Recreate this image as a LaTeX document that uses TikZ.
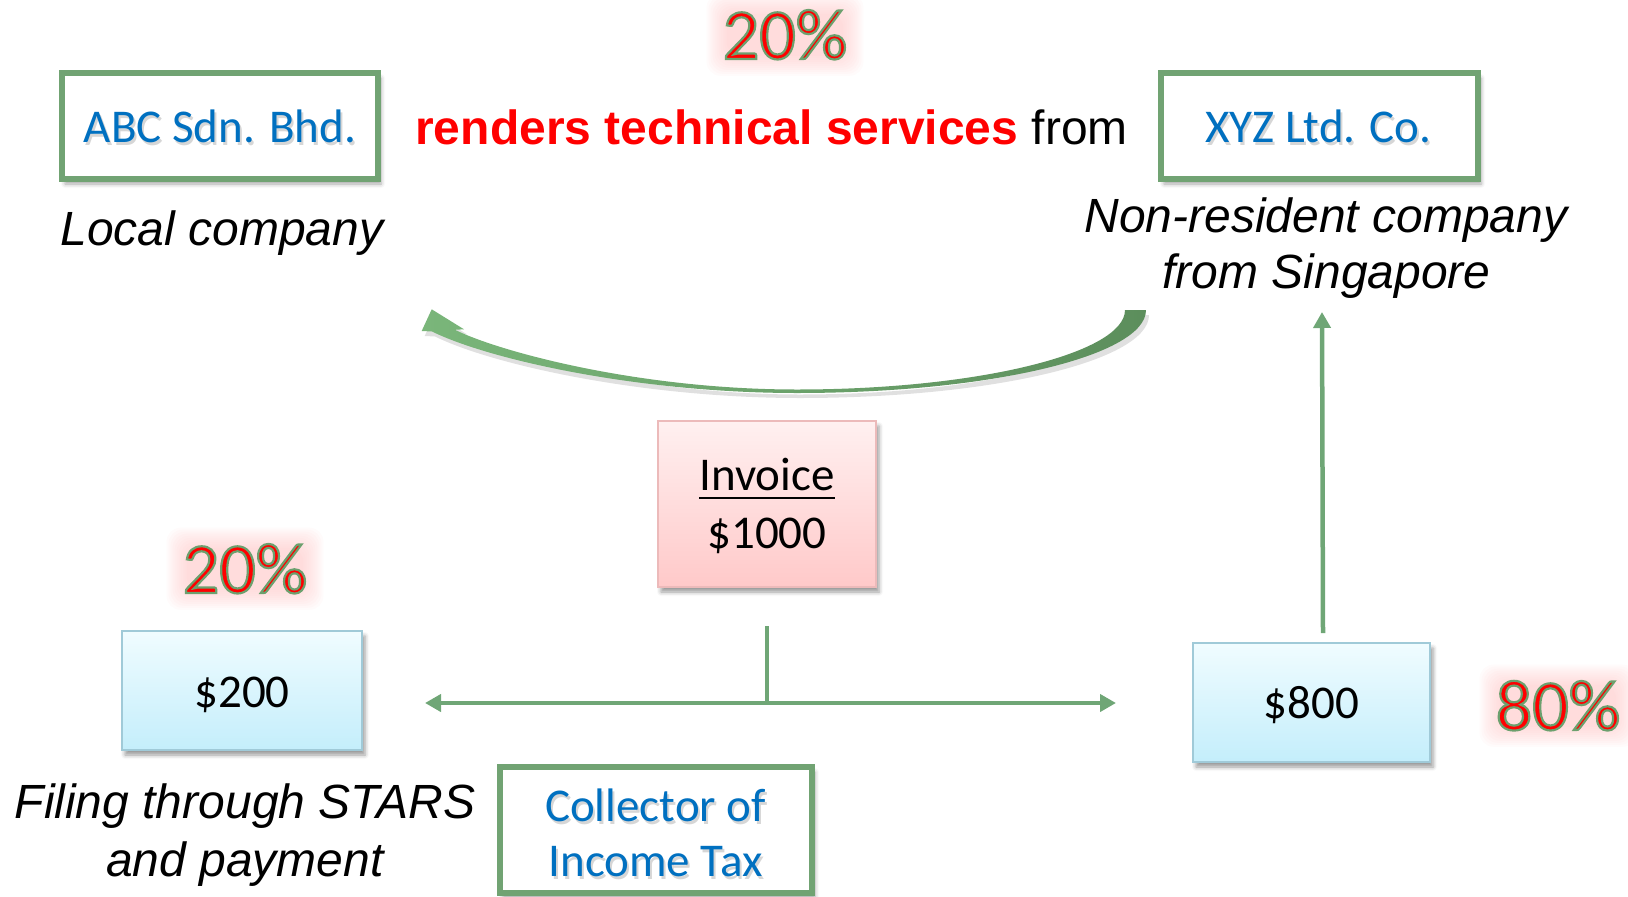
\documentclass[tikz,border=0pt]{standalone}
\usepackage{fontspec}
\setmainfont{Carlito}
\newfontfamily\arialfam{Liberation Sans}
\usetikzlibrary{shadows.blur,arrows.meta,calc,backgrounds}

\definecolor{boxgreen}{RGB}{113,163,115}
\definecolor{linegreen}{RGB}{111,166,118}
\definecolor{txtblue}{RGB}{0,112,192}
\definecolor{pctred}{RGB}{255,0,0}
\definecolor{glowpink}{RGB}{255,190,190}
\definecolor{bluetop}{RGB}{240,252,255}
\definecolor{bluebot}{RGB}{196,238,251}
\definecolor{blueedge}{RGB}{160,202,216}
\definecolor{pinktop}{RGB}{255,240,240}
\definecolor{pinkbot}{RGB}{255,201,201}
\definecolor{pinkedge}{RGB}{236,186,186}
\definecolor{arrowlight}{RGB}{122,182,122}
\definecolor{arrowdark}{RGB}{92,142,92}

\tikzset{
  >={Triangle[length=16bp,width=17bp]},
  calfont/.style={font=\fontsize{47bp}{56bp}\selectfont},
  pctfont/.style={font=\fontsize{72bp}{80bp}\selectfont, anchor=base, inner sep=0pt},
  arialit/.style={font=\arialfam\itshape\fontsize{48bp}{56bp}\selectfont, anchor=base, inner sep=0pt},
  basetext/.style={calfont, anchor=base, inner sep=0pt},
  greenbox/.style={draw=boxgreen, line width=6bp, fill=white, inner sep=0pt,
    blur shadow={shadow xshift=3bp, shadow yshift=-5bp, shadow blur radius=4bp, shadow opacity=35}},
  bluebox/.style={draw=blueedge, line width=2bp, top color=bluetop, bottom color=bluebot, inner sep=0pt,
    blur shadow={shadow xshift=3bp, shadow yshift=-5bp, shadow blur radius=4bp, shadow opacity=40}},
  pinkbox/.style={draw=pinkedge, line width=2bp, top color=pinktop, bottom color=pinkbot, inner sep=0pt,
    blur shadow={shadow xshift=3bp, shadow yshift=-5bp, shadow blur radius=4bp, shadow opacity=40}},
  conn/.style={draw=linegreen, line width=4.5bp}
}

% red text stroked in green (text render mode 2)
\newcommand\outlined[1]{\textcolor{pctred}{\special{pdf:literal direct q 2 Tr 2.2 w 0.424 0.627 0.431 RG}#1\special{pdf:literal direct Q}}}

\newcommand\pctlabel[3]{%
  \node[pctfont] (#1) at (#2) {\outlined{#3}};
  \begin{scope}[on background layer]
    \foreach \e in {16,14,...,-4}{%
      \fill[glowpink, opacity=0.065, rounded corners=14bp]
        ($(#1.north west)+(-\e,-\e)$) rectangle ($(#1.south east)+(\e,\e)$);
    }%
  \end{scope}
}

\newcommand\bluetext[3]{%
  \node[basetext, text=black, opacity=0.16] at ($(#2)+(2,3)$) {#3};
  \node[basetext, text=txtblue] (#1) at (#2) {#3};
}

\newcommand\curvedarrowpath{(1146,310) .. controls (1146,355.8) and (989.7,393) .. (797,393)
  .. controls (640,393) and (490,360) .. (432,331.5) -- (421.7,331) -- (431.7,309.3) -- (464,329.3) -- (455,329.8)
  .. controls (500,352) and (640,389.5) .. (797,389.5)
  .. controls (978,389.5) and (1125,353) .. (1125,310) -- cycle}

\begin{document}
\begin{tikzpicture}[x=1bp,y=-1bp]
\useasboundingbox (0,0) rectangle (1628,896);

% boxes
\node[greenbox, minimum width=316bp, minimum height=106bp] (abc) at (220,126) {};
\node[greenbox, minimum width=317bp, minimum height=106bp] (xyz) at (1319.5,126) {};
\node[greenbox, minimum width=312bp, minimum height=126bp] (cit) at (656,830) {};
\node[pinkbox, minimum width=218bp, minimum height=166bp] (inv) at (767,504) {};
\node[bluebox, minimum width=240bp, minimum height=119bp] (b200) at (242,690.5) {};
\node[bluebox, minimum width=237bp, minimum height=119bp] (b800) at (1311.5,702.5) {};

% box texts
\bluetext{abctext}{220,142}{ABC Sdn. Bhd.}
\bluetext{xyztext}{1318.5,142}{XYZ Ltd. Co.}
\bluetext{cittext1}{655.5,821.7}{Collector of}
\bluetext{cittext2}{655.5,876.7}{Income Tax}
\node[basetext] (invtext) at (767,490) {Invoice};
\draw[line width=2.7bp] ($(invtext.base west)+(0,8)$) -- ($(invtext.base east)+(0,8)$);
\node[basetext] (invamt) at (767,548) {\$1000};
\node[basetext] (t200) at (242,707) {\$200};
\node[basetext] (t800) at (1311.5,718) {\$800};

% plain texts
\node[font=\arialfam\fontsize{48bp}{56bp}\selectfont, anchor=base, inner sep=0pt] (render) at (771.5,144)
  {\textcolor{pctred}{\bfseries renders technical services} from};
\node[arialit] (local) at (222,245) {Local company};
\node[arialit] (nonres1) at (1326,232) {Non-resident company};
\node[arialit] (nonres2) at (1326.5,288) {from Singapore};
\node[arialit] (filing1) at (245,818) {Filing through STARS};
\node[arialit] (filing2) at (245,876.7) {and payment};

% percentages
\pctlabel{pcttop}{785,59}{20\%}
\pctlabel{pctlow}{245,593}{20\%}
\pctlabel{pctright}{1558,730}{80\%}

% curved arrow
\fill[black, opacity=0.12] [shift={(3,5)}] \curvedarrowpath;
\shade[left color=arrowlight, right color=arrowdark] \curvedarrowpath;

% connectors
\coordinate (stem) at ($(inv.south)+(0,38)$);
\coordinate (split) at (767,703);
\coordinate (lefttip) at (425,703);
\coordinate (righttip) at (1116,703);
\draw[conn] (stem) -- (split);
\draw[conn, <->] (lefttip) -- (righttip);
\coordinate (upstart) at ($(b800.north)+(11.5,-9)$);
\coordinate (uptip) at (1322,312);
\draw[conn, ->] (upstart) -- (uptip);
\end{tikzpicture}
\end{document}
